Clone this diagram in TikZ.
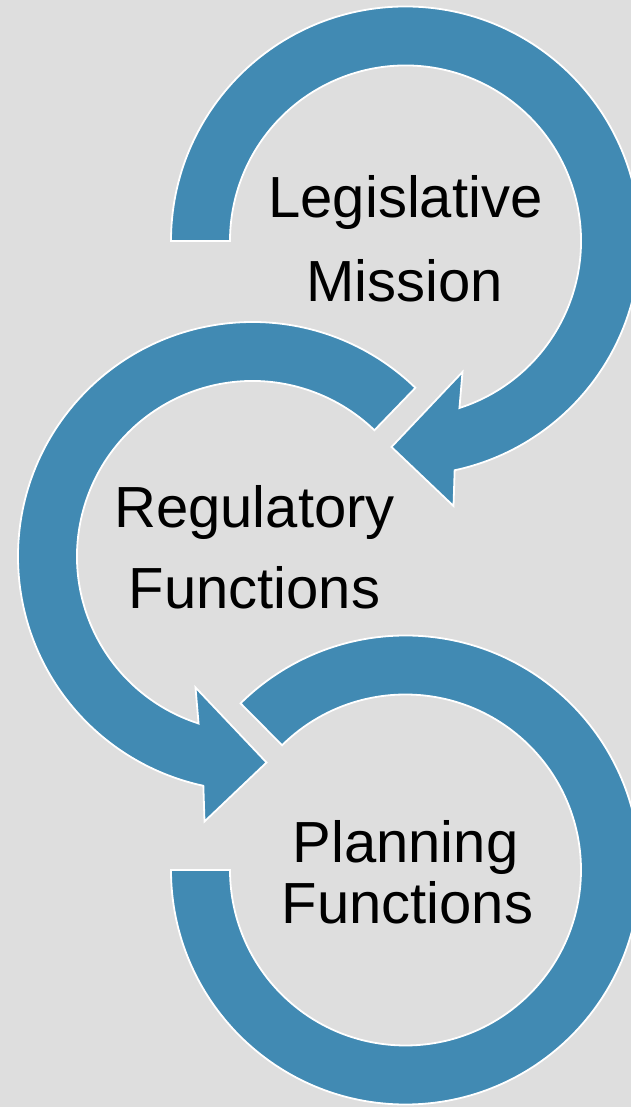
\documentclass[tikz,border=0pt]{standalone}
\usepackage{fontspec}
\setmainfont{Liberation Sans}
\definecolor{bg}{RGB}{222,222,222}
\definecolor{band}{RGB}{65,138,179}
\begin{document}
\begin{tikzpicture}[x=1pt,y=1pt,
  bandstyle/.style={fill=band, draw=white, line width=1.8pt, line join=miter},
  lbl/.style={font=\fontsize{58}{70}\selectfont, anchor=base, inner sep=0pt}]
\fill[bg] (0,0) rectangle (631,1107);
\useasboundingbox (0,0) rectangle (631,1107);
\coordinate (c1) at (405.5,866);
\coordinate (c2) at (252.5,550.5);
\coordinate (c3) at (405.5,237);
% Planning circle (no arrowhead)
\draw[bandstyle] ([shift={(180:234.5)}]c3) arc[start angle=180,end angle=494.7,radius=234.5]
  -- ([shift={(494.7:175.5)}]c3) arc[start angle=494.7,end angle=180,radius=175.5] -- cycle;
% Regulatory circle
\draw[bandstyle] ([shift={(46:234.5)}]c2) arc[start angle=46,end angle=257.9,radius=234.5]
  -- ([shift={(-48,-265)}]c2) -- ([shift={(14,-206)}]c2) -- ([shift={(-57,-131)}]c2)
  -- ([shift={(252.1:175.5)}]c2) arc[start angle=252.1,end angle=46,radius=175.5] -- cycle;
% Legislative circle
\draw[bandstyle] ([shift={(180:234.5)}]c1) arc[start angle=180,end angle=-77.9,radius=234.5]
  -- ([shift={(48,-265)}]c1) -- ([shift={(-14,-206)}]c1) -- ([shift={(57,-131)}]c1)
  -- ([shift={(-72.1:175.5)}]c1) arc[start angle=-72.1,end angle=180,radius=175.5] -- cycle;
% Labels
\node[lbl] (leg1) at (405.5,889) {Legislative};
\node[lbl] (leg2) at (404.5,805) {Mission};
\node[lbl] (reg1) at (254.5,579) {Regulatory};
\node[lbl] (reg2) at (254.5,498) {Functions};
\node[lbl] (pla1) at (405.5,244) {Planning};
\node[lbl] (pla2) at (407.5,183) {Functions};
\end{tikzpicture}
\end{document}
